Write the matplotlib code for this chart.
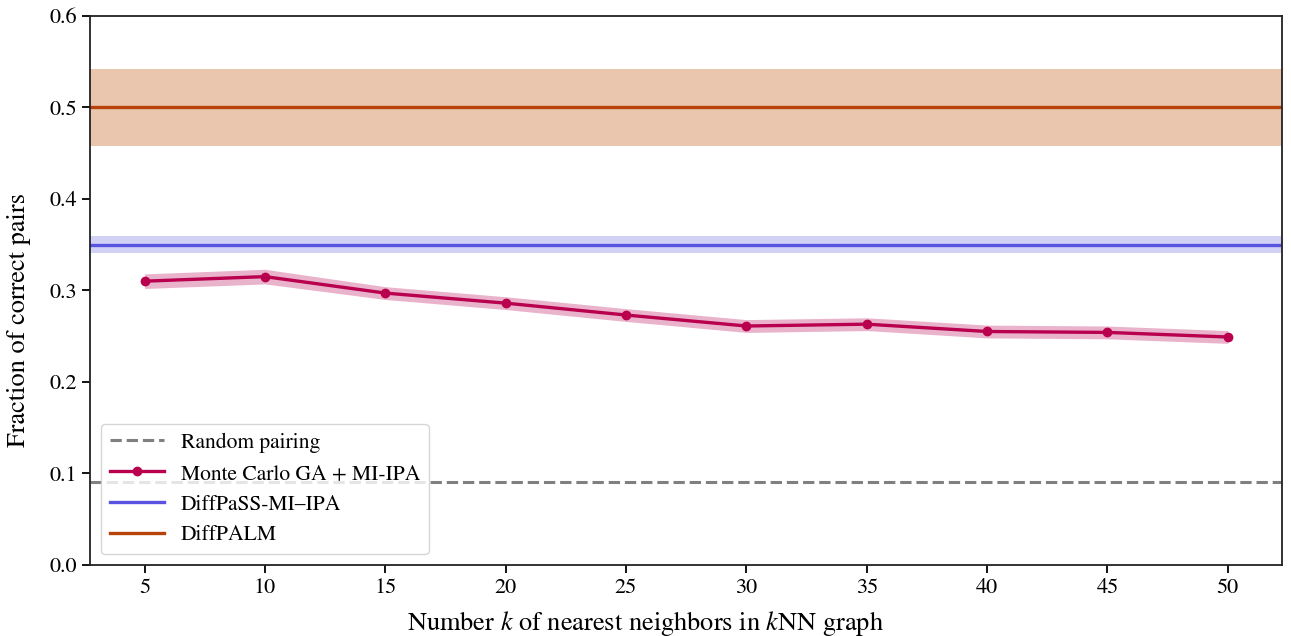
import matplotlib
matplotlib.use("Agg")
import matplotlib.pyplot as plt

plt.rcParams['font.family'] = ['STIXGeneral', 'Liberation Serif', 'DejaVu Serif']
plt.rcParams['mathtext.fontset'] = 'stix'

# data
k_values = [5, 10, 15, 20, 25, 30, 35, 40, 45, 50]
mc_mean = [0.310, 0.315, 0.297, 0.286, 0.273, 0.261, 0.263, 0.255, 0.254, 0.249]
mc_err = [0.008, 0.008, 0.007, 0.007, 0.007, 0.007, 0.007, 0.007, 0.007, 0.007]

random_level = 0.091
diffpass_mean = 0.350
diffpass_err = 0.009
diffpalm_mean = 0.500
diffpalm_err = 0.042

fig, ax = plt.subplots(figsize=(12.91, 6.36), dpi=100)

ax.axhline(random_level, color="grey", ls="--", lw=2.2, label="Random pairing")

lo = [m - e for m, e in zip(mc_mean, mc_err)]
hi = [m + e for m, e in zip(mc_mean, mc_err)]
ax.fill_between(k_values, lo, hi, color="#c8437f", alpha=0.4, lw=0)
ax.plot(k_values, mc_mean, color="#b8004f", lw=2.4, marker="o", ms=6,
        label="Monte Carlo GA + MI-IPA")

ax.axhspan(diffpass_mean - diffpass_err, diffpass_mean + diffpass_err,
           color="#5a5ae0", alpha=0.28, lw=0)
ax.axhline(diffpass_mean, color="#5a52e0", lw=2.4, label="DiffPaSS-MI–IPA")

ax.axhspan(diffpalm_mean - diffpalm_err, diffpalm_mean + diffpalm_err,
           color="#c8692a", alpha=0.38, lw=0)
ax.axhline(diffpalm_mean, color="#b8430a", lw=2.4, label="DiffPALM")

ax.set_ylim(0, 0.6)
ax.set_xticks(k_values)
ax.tick_params(labelsize=16, width=1.3, length=6)
for s in ax.spines.values():
    s.set_linewidth(1.3)
    s.set_color("#222222")

# labels are centred on the figure, not on the axes
fig.text(0.5, 0.019, "Number $k$ of nearest neighbors in $k$NN graph",
         fontsize=19, ha="center", va="center")
fig.text(0.015, 0.497, "Fraction of correct pairs", fontsize=19,
         rotation=90, ha="center", va="center")

ax.legend(loc="lower left", fontsize=15.5, framealpha=0.8, edgecolor="#cccccc",
          handlelength=2.5)

fig.subplots_adjust(left=0.07, right=0.993, top=0.975, bottom=0.112)
fig.savefig("out.png", dpi=100)
